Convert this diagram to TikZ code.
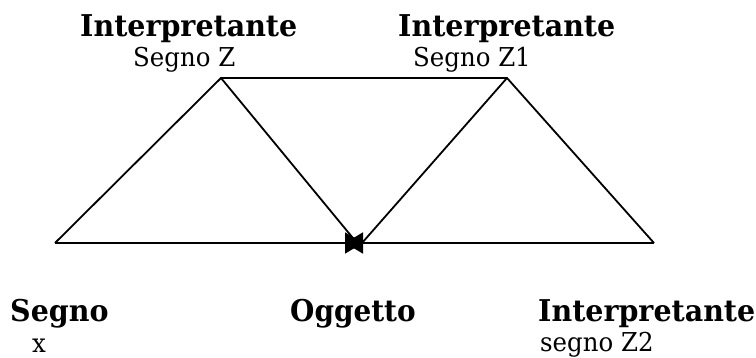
\documentclass[tikz,border=0pt]{standalone}
\usepackage{fontspec}
\setmainfont{DejaVu Serif}
\usetikzlibrary{arrows.meta}
\begin{document}
\begin{tikzpicture}[x=1pt,y=-1pt,
  edge/.style={line width=1.8pt},
  headtxt/.style={anchor=base west,inner sep=0pt,font=\fontsize{30}{30}\selectfont\bfseries},
  subtxt/.style={anchor=base west,inner sep=0pt,font=\fontsize{26}{26}\selectfont},
  meet/.style={-{Triangle[length=18pt,width=21pt]}}]
\useasboundingbox (0,0) rectangle (756,358);
% corners of the two triangles
\coordinate (A) at (55,243);
\coordinate (B) at (221,78);
\coordinate (C) at (507,78);
\coordinate (D) at (654,243);
\coordinate (OL) at (357,243);
\coordinate (OR) at (362,243);
\coordinate (TipR) at (363,243);
\coordinate (TipL) at (345,243);
% labels
\node[headtxt] (i1) at (80,37) {\scalebox{0.95}[1]{Interpretante}};
\node[subtxt] (z) at (133,67) {\scalebox{0.94}[1]{Segno Z}};
\node[headtxt] (i2) at (398,37) {\scalebox{0.95}[1]{Interpretante}};
\node[subtxt] (z1) at (413,67) {\scalebox{0.94}[1]{Segno Z1}};
\node[headtxt] (s) at (10,322) {\scalebox{0.95}[1]{Segno}};
\node[subtxt] (x) at (32,353) {\scalebox{0.94}[1]{x}};
\node[headtxt] (o) at (290,322) {\scalebox{0.93}[1]{Oggetto}};
\node[headtxt] (i3) at (538,322) {\scalebox{0.95}[1]{Interpretante}};
\node[subtxt] (z2) at (540,352) {\scalebox{0.94}[1]{segno Z2}};
% edges
\draw[edge] (A) -- (B) -- (C) -- (D);
\draw[edge] (B) -- (OL);
\draw[edge] (C) -- (OR);
\draw[edge,meet] (A) -- (TipR);
\draw[edge,meet] (D) -- (TipL);
\end{tikzpicture}
\end{document}
